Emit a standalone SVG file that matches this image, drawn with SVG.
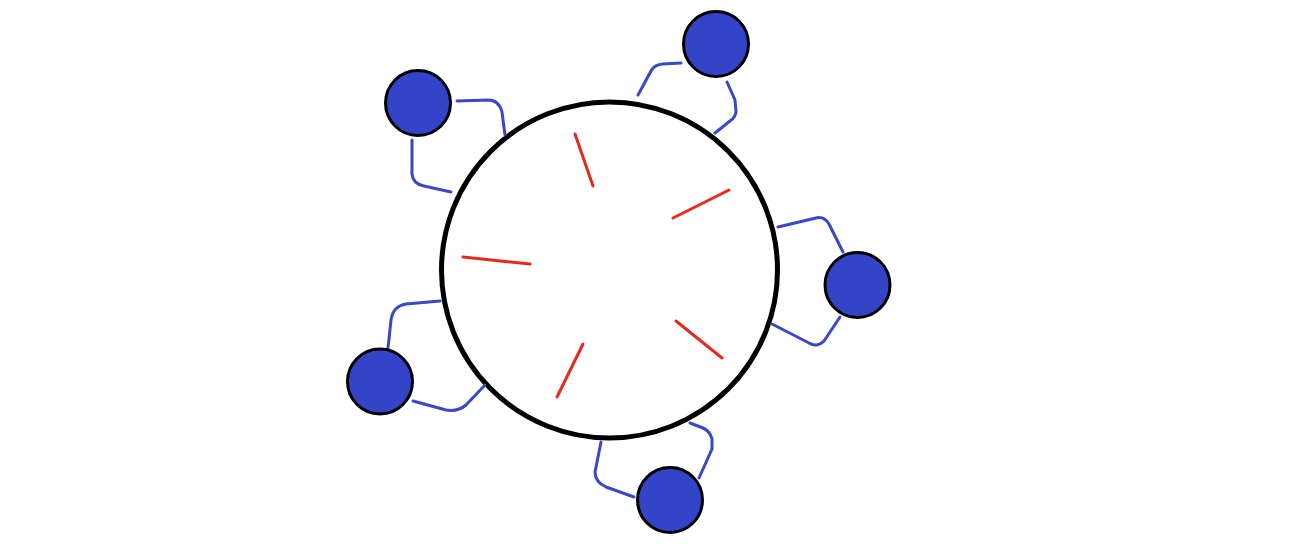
<svg xmlns="http://www.w3.org/2000/svg" width="1302" height="552" viewBox="0 0 1302 552">
<style>
.hub{fill:#fff;stroke:#000;stroke-width:5}
.node{fill:#3344c8;stroke:#000;stroke-width:3}
.link{fill:none;stroke:#3a48c4;stroke-width:3;stroke-linecap:round;stroke-linejoin:round}
.tick{stroke:#e42a1e;stroke-width:3;stroke-linecap:round}
</style>
<rect width="1302" height="552" fill="#fff"/>
<g id="hub">
<circle class="hub" cx="609.5" cy="270" r="168"/>
<line class="tick" x1="575" y1="134" x2="593" y2="186"/>
<line class="tick" x1="729" y1="190" x2="673" y2="218"/>
<line class="tick" x1="463" y1="257" x2="530" y2="264"/>
<line class="tick" x1="676" y1="321" x2="722" y2="358"/>
<line class="tick" x1="583" y1="344" x2="557" y2="397"/>
</g>
<g id="connectors">
<path class="link" d="M457,101 L488,100 Q499,100 502,112 L505,135"/>
<path class="link" d="M412,140 L412,174 Q413,184 424,186 L451,192"/>
<path class="link" d="M681,63 L662,64 Q654,65 651,71 L638,95"/>
<path class="link" d="M727,82 L735,100 L736,112 Q735,118 730,121 L715,133"/>
<path class="link" d="M778,227 L816,218 Q824,216 829,224 L843,252"/>
<path class="link" d="M840,317 L824,341 Q818,347 811,344 L772,324"/>
<path class="link" d="M388,348 L391,320 Q393,306 406,304 L440,301"/>
<path class="link" d="M413,401 L446,410 Q458,412 466,405 L485,385"/>
<path class="link" d="M634,497 L606,487 Q595,482 595,472 L601,442"/>
<path class="link" d="M699,478 L712,449 L712,439 Q710,431 703,428 L690,423"/>
</g>
<g id="node1"><circle class="node" cx="418" cy="103" r="32.5"/></g>
<g id="node2"><circle class="node" cx="716" cy="44" r="32.5"/></g>
<g id="node3"><circle class="node" cx="857.5" cy="285" r="32.5"/></g>
<g id="node4"><circle class="node" cx="380" cy="381.5" r="32.5"/></g>
<g id="node5"><circle class="node" cx="670" cy="500" r="32.5"/></g>
</svg>
